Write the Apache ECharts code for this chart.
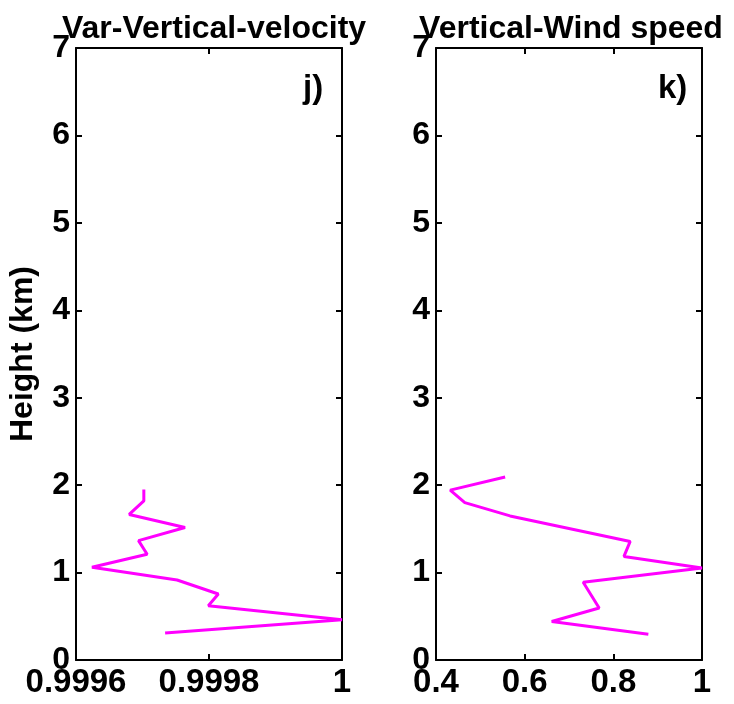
<!DOCTYPE html>
<html>
<head>
<meta charset="utf-8">
<script src="https://cdn.jsdelivr.net/npm/echarts@6/dist/echarts.min.js"></script>
<style>
  html, body { margin: 0; padding: 0; background: #fff; }
  #chart { width: 734px; height: 704px; }
</style>
</head>
<body>
<div id="chart"></div>
<script>
// Profile of the vertical-velocity variance ratio against height
const varVelHeight = [0.31, 0.46, 0.62, 0.755, 0.915, 1.06, 1.21, 1.365, 1.515, 1.665, 1.82, 1.95];
const varVelValue  = [0.999734, 1.0, 0.999799, 0.999814, 0.999752, 0.999624, 0.999707, 0.999694, 0.999764, 0.99968, 0.999702, 0.999702];

// Profile of the vertical wind speed ratio against height
const windHeight = [0.295, 0.44, 0.594, 0.89, 1.053, 1.185, 1.356, 1.648, 1.80, 1.943, 2.094];
const windValue  = [0.879, 0.661, 0.768, 0.732, 1.0, 0.824, 0.838, 0.567, 0.465, 0.432, 0.556];

const panelTitles = ['Var-Vertical-velocity', 'Vertical-Wind speed'];
const panelTags = ['j)', 'k)'];
const heightTicks = { min: 0, max: 7, interval: 1 };
const leftTicks = { min: 0.9996, max: 1, interval: 0.0002 };
const rightTicks = { min: 0.4, max: 1, interval: 0.2 };

const FONT = 'Liberation Sans';
const black = '#000';

function fmt(v) {
  if (Math.abs(v - 1) < 1e-9) return '1';
  return (+v.toFixed(6)).toString();
}

function xAxes(gridIndex, ticks) {
  const common = {
    type: 'value', gridIndex,
    min: ticks.min, max: ticks.max, interval: ticks.interval,
    splitLine: { show: false },
    axisLine: { show: true, onZero: false, lineStyle: { color: black, width: 2 } },
    axisTick: { show: true, inside: true, length: 6, lineStyle: { color: black, width: 2 } }
  };
  return [
    Object.assign({}, common, {
      position: 'bottom',
      axisLabel: {
        show: true, margin: 6, color: black, fontFamily: FONT, fontWeight: 'bold', fontSize: 33,
        showMinLabel: true, showMaxLabel: true, hideOverlap: false,
        formatter: fmt
      }
    }),
    Object.assign({}, common, { position: 'top', axisLabel: { show: false } })
  ];
}

function yAxes(gridIndex, withName) {
  const common = {
    type: 'value', gridIndex,
    min: heightTicks.min, max: heightTicks.max, interval: heightTicks.interval,
    splitLine: { show: false },
    axisLine: { show: true, onZero: false, lineStyle: { color: black, width: 2 } },
    axisTick: { show: true, inside: true, length: 6, lineStyle: { color: black, width: 2 } }
  };
  const left = Object.assign({}, common, {
    position: 'left',
    axisLabel: {
      show: true, margin: 6, color: black, fontFamily: FONT, fontWeight: 'bold', fontSize: 32,
      showMinLabel: true, showMaxLabel: true
    }
  });
  if (withName) {
    Object.assign(left, {
      name: 'Height (km)', nameLocation: 'middle', nameGap: 37, nameRotate: 90,
      nameTextStyle: { color: black, fontFamily: FONT, fontWeight: 'bold', fontSize: 32 }
    });
  }
  return [left, Object.assign({}, common, { position: 'right', axisLabel: { show: false } })];
}

const chart = echarts.init(document.getElementById('chart'), null, { renderer: 'canvas' });

const option = {
  backgroundColor: '#fff',
  animation: false,
  title: [
    { text: panelTitles[0], left: 209, top: 8, textAlign: 'center',
      textStyle: { color: black, fontFamily: FONT, fontWeight: 'bold', fontSize: 32 } },
    { text: panelTitles[1], left: 566, top: 8, textAlign: 'center',
      textStyle: { color: black, fontFamily: FONT, fontWeight: 'bold', fontSize: 32 } },
    { text: panelTags[0], left: 298, top: 67,
      textStyle: { color: black, fontFamily: FONT, fontWeight: 'bold', fontSize: 33 } },
    { text: panelTags[1], left: 653, top: 67,
      textStyle: { color: black, fontFamily: FONT, fontWeight: 'bold', fontSize: 33 } }
  ],
  grid: [
    { left: 76, right: 392, top: 48, bottom: 44, containLabel: false },
    { left: 436, right: 32, top: 48, bottom: 44, containLabel: false }
  ],
  xAxis: [].concat(xAxes(0, leftTicks), xAxes(1, rightTicks)),
  yAxis: [].concat(yAxes(0, true), yAxes(1, false)),
  series: [
    {
      type: 'line', xAxisIndex: 0, yAxisIndex: 0,
      data: varVelValue.map((v, i) => [v, varVelHeight[i]]),
      showSymbol: false, symbol: 'none',
      lineStyle: { color: '#ff00ff', width: 3 }
    },
    {
      type: 'line', xAxisIndex: 2, yAxisIndex: 2,
      data: windValue.map((v, i) => [v, windHeight[i]]),
      showSymbol: false, symbol: 'none',
      lineStyle: { color: '#ff00ff', width: 3 }
    }
  ]
};

chart.setOption(option);
</script>
</body>
</html>
